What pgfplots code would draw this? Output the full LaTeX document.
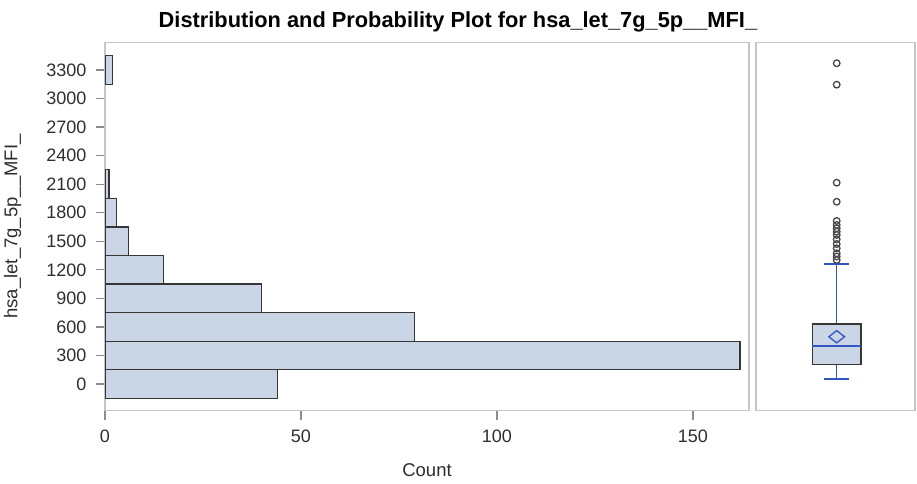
\documentclass[border=0pt]{standalone}
\usepackage{pgfplots}
\pgfplotsset{compat=1.18}
\usepackage{fontspec}
\setmainfont{Liberation Sans}
\definecolor{barfill}{HTML}{CAD5E6}
\definecolor{baredge}{HTML}{363636}
\definecolor{framegray}{HTML}{C6C6C6}
\definecolor{tickgray}{HTML}{8C8C8C}
\definecolor{boxblue}{HTML}{3157C2}
\definecolor{outgray}{HTML}{474747}
\definecolor{txt}{HTML}{2E2E2E}
\begin{document}
\begin{tikzpicture}
\path[use as bounding box] (0pt,0pt) rectangle (917pt,483pt);
\begin{axis}[
  at={(105pt,72.5pt)}, anchor=south west,
  scale only axis, width=644pt, height=368pt,
  xmin=0, xmax=164.3, ymin=-278, ymax=3588,
  axis line style={framegray, line width=1.3pt},
  tick align=outside, major tick length=9pt,
  xtick style={draw=tickgray, line width=1.2pt},
  ytick style={draw=tickgray, line width=1.2pt},
  xtick={0,50,100,150}, ytick={0,300,...,3300},
  xtick pos=bottom, ytick pos=left,
  /pgf/number format/assume math mode=true,
  /pgf/number format/set thousands separator={},
  tick label style={font=\fontsize{18}{20}\selectfont, text=txt},
  yticklabel style={xshift=-6pt},
  xticklabel style={yshift=-6.5pt},
  label style={font=\fontsize{18.5}{22}\selectfont, text=txt},
  xlabel={Count},
  xlabel style={at={(axis description cs:0.5,0)}, anchor=base, yshift=-65.5pt},
  ylabel={hsa\_let\_7g\_5p\_\_MFI\_},
  ylabel style={at={(axis description cs:0,0.5)}, anchor=base, yshift=87.5pt},
  title={Distribution and Probability Plot for hsa\_let\_7g\_5p\_\_MFI\_},
  title style={font=\bfseries\fontsize{21.8}{24}\selectfont, text=black, at={(0.548,1)}, anchor=base, yshift=9pt},
]
\addplot[xbar, bar width=300, fill=barfill, draw=baredge, line width=1.2pt]
  coordinates {(44,0) (162,300) (79,600) (40,900) (15,1200) (6,1500) (3,1800) (1,2100) (2,3300)};
\end{axis}
\begin{axis}[
  at={(756pt,72.5pt)}, anchor=south west,
  scale only axis, width=159pt, height=368pt,
  xmin=-1.015, xmax=0.985, ymin=-278, ymax=3588,
  axis line style={framegray, line width=1.3pt},
  ticks=none,
]
% whiskers
\addplot[boxblue, line width=1.4pt] coordinates {(0,53) (0,207)};
\addplot[boxblue, line width=1.4pt] coordinates {(0,630) (0,1261)};
\addplot[boxblue, line width=1.3pt] coordinates {(-0.157,53) (0.157,53)};
\addplot[boxblue, line width=1.3pt] coordinates {(-0.157,1261) (0.157,1261)};
% box (Q1 = 207, Q3 = 630)
\addplot[draw=baredge, fill=barfill, line width=1.3pt]
  coordinates {(-0.305,207) (0.305,207) (0.305,630) (-0.305,630)} -- cycle;
% median
\addplot[boxblue, line width=1.3pt] coordinates {(-0.305,399) (0.305,399)};
% mean (497)
\addplot[boxblue, line width=1.3pt]
  coordinates {(0,561.6) (0.0987,497) (0,432.4) (-0.0987,497)} -- cycle;
% outliers
\addplot[only marks, mark=o, mark size=3.3pt, mark options={draw=outgray, line width=1.3pt}]
  coordinates {(0,3370) (0,3145) (0,2115) (0,1915) (0,1713) (0,1671) (0,1636) (0,1601)
    (0,1566) (0,1520) (0,1471) (0,1426) (0,1373) (0,1340) (0,1303)};
\end{axis}
\end{tikzpicture}
\end{document}
